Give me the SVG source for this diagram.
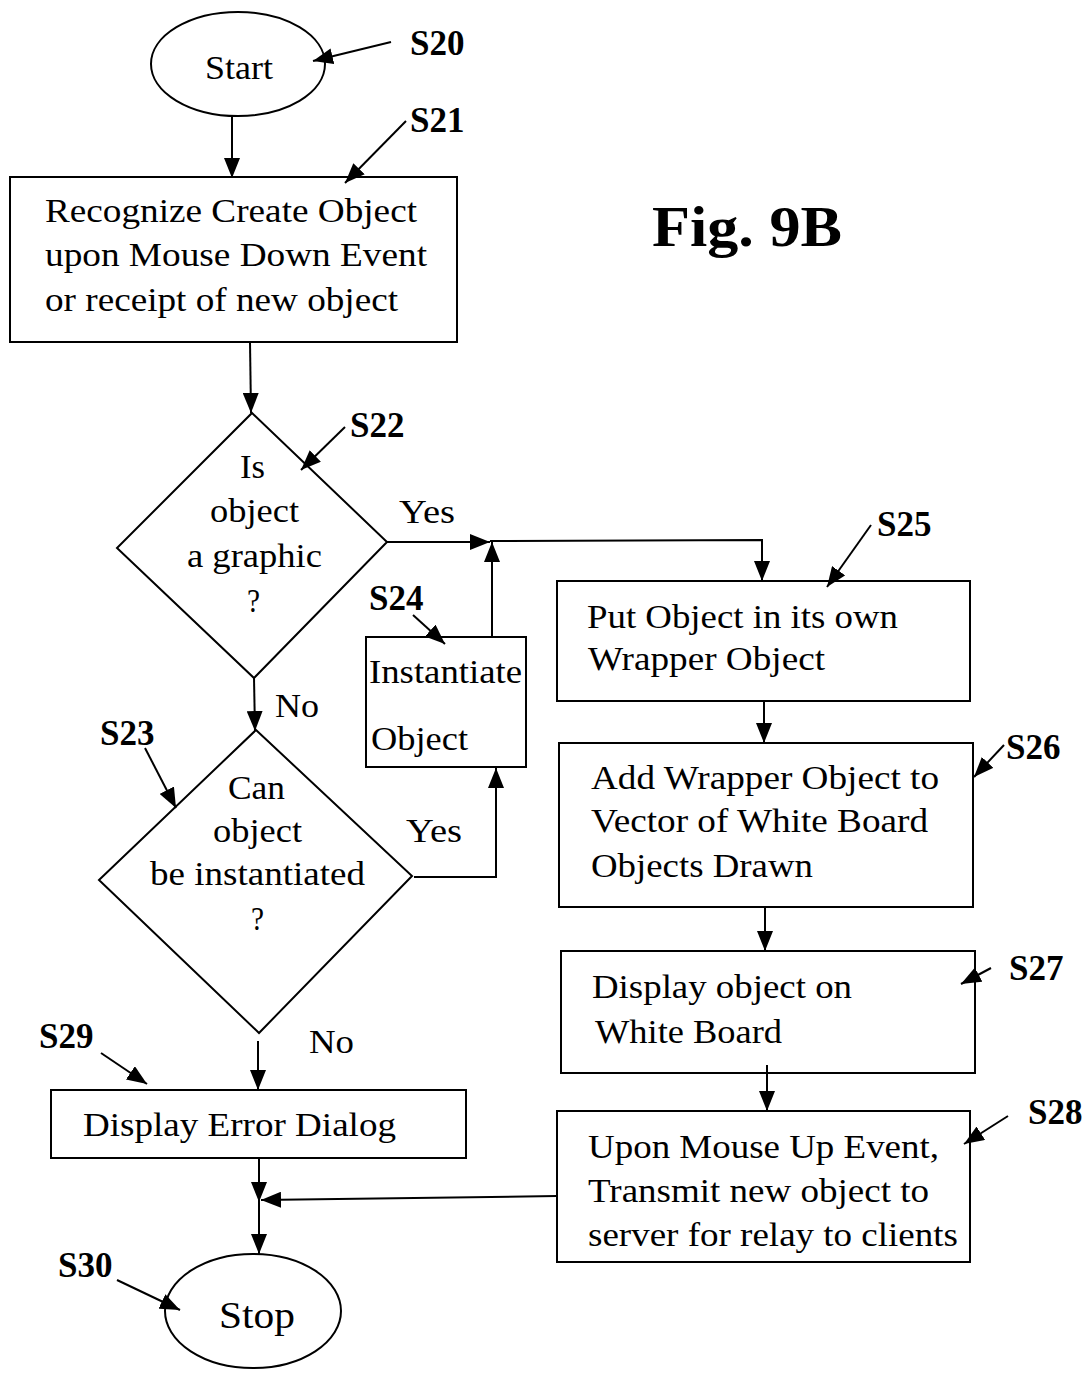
<svg xmlns="http://www.w3.org/2000/svg" width="1089" height="1373" viewBox="0 0 1089 1373">
<style>
.s{fill:none;stroke:#000;stroke-width:2}
.t{font-family:"Liberation Serif","Times New Roman",serif;font-size:33px;fill:#000}
.d{font-family:"Liberation Serif","Times New Roman",serif;font-size:34px;fill:#000}
.l{font-family:"Liberation Serif","Times New Roman",serif;font-size:35px;font-weight:bold;fill:#000}
.c{fill:none;stroke:#000;stroke-width:2}
</style>
<defs>
<marker id="ah" viewBox="0 0 20 16" refX="20" refY="8" markerWidth="20" markerHeight="16" markerUnits="userSpaceOnUse" orient="auto">
<path d="M0,0 L20,8 L0,16 z" fill="#000"/>
</marker>
</defs>
<rect width="1089" height="1373" fill="#fff"/>

<text class="l" x="652" y="246" style="font-size:56px" textLength="190" lengthAdjust="spacingAndGlyphs">Fig. 9B</text>

<g id="S20">
<ellipse class="s" cx="238" cy="64" rx="87" ry="52"/>
<text class="t" x="205" y="79" style="font-size:34px" textLength="68" lengthAdjust="spacingAndGlyphs">Start</text>
</g>
<g id="S21">
<rect class="s" x="10" y="177" width="447" height="165"/>
<text class="t" x="45" y="222" textLength="372" lengthAdjust="spacingAndGlyphs">Recognize Create Object</text>
<text class="t" x="45" y="266" textLength="382" lengthAdjust="spacingAndGlyphs">upon Mouse Down Event</text>
<text class="t" x="45" y="311" textLength="353" lengthAdjust="spacingAndGlyphs">or receipt of new object</text>
</g>
<g id="S22">
<polygon class="s" points="252,413 387,542 254,678 117,548"/>
<text class="d" x="240" y="478" textLength="25" lengthAdjust="spacingAndGlyphs">Is</text>
<text class="d" x="210" y="522" textLength="89" lengthAdjust="spacingAndGlyphs">object</text>
<text class="d" x="187" y="567" textLength="135" lengthAdjust="spacingAndGlyphs">a graphic</text>
<text class="d" x="247" y="612" textLength="13" lengthAdjust="spacingAndGlyphs">?</text>
</g>
<g id="S23">
<polygon class="s" points="256,730 412,876 259,1033 99,880"/>
<text class="d" x="228" y="799" textLength="57" lengthAdjust="spacingAndGlyphs">Can</text>
<text class="d" x="213" y="842" textLength="89" lengthAdjust="spacingAndGlyphs">object</text>
<text class="d" x="150" y="885" textLength="215" lengthAdjust="spacingAndGlyphs">be instantiated</text>
<text class="d" x="251" y="930" textLength="13" lengthAdjust="spacingAndGlyphs">?</text>
</g>
<g id="S24">
<rect class="s" x="366" y="637" width="160" height="130"/>
<text class="t" x="369" y="683" textLength="153" lengthAdjust="spacingAndGlyphs">Instantiate</text>
<text class="t" x="371" y="750" textLength="97" lengthAdjust="spacingAndGlyphs">Object</text>
</g>
<g id="S25">
<rect class="s" x="557" y="581" width="413" height="120"/>
<text class="t" x="587" y="628" textLength="311" lengthAdjust="spacingAndGlyphs">Put Object in its own</text>
<text class="t" x="588" y="670" textLength="237" lengthAdjust="spacingAndGlyphs">Wrapper Object</text>
</g>
<g id="S26">
<rect class="s" x="559" y="743" width="414" height="164"/>
<text class="t" x="591" y="789" textLength="348" lengthAdjust="spacingAndGlyphs">Add Wrapper Object to</text>
<text class="t" x="591" y="832" textLength="337" lengthAdjust="spacingAndGlyphs">Vector of White Board</text>
<text class="t" x="591" y="877" textLength="222" lengthAdjust="spacingAndGlyphs">Objects Drawn</text>
</g>
<g id="S27">
<rect class="s" x="561" y="951" width="414" height="122"/>
<text class="t" x="592" y="998" textLength="260" lengthAdjust="spacingAndGlyphs">Display object on</text>
<text class="t" x="595" y="1043" textLength="187" lengthAdjust="spacingAndGlyphs">White Board</text>
</g>
<g id="S28">
<rect class="s" x="557" y="1111" width="413" height="151"/>
<text class="t" x="588" y="1158" textLength="351" lengthAdjust="spacingAndGlyphs">Upon Mouse Up Event,</text>
<text class="t" x="588" y="1202" textLength="341" lengthAdjust="spacingAndGlyphs">Transmit new object to</text>
<text class="t" x="588" y="1246" textLength="370" lengthAdjust="spacingAndGlyphs">server for relay to clients</text>
</g>
<g id="S29">
<rect class="s" x="51" y="1090" width="415" height="68"/>
<text class="t" x="83" y="1136" textLength="313" lengthAdjust="spacingAndGlyphs">Display Error Dialog</text>
</g>
<g id="S30">
<ellipse class="s" cx="253" cy="1311" rx="88" ry="57"/>
<text class="t" x="219" y="1328" style="font-size:38px" textLength="76" lengthAdjust="spacingAndGlyphs">Stop</text>
</g>

<g id="labels">
<text class="l" x="410" y="55">S20</text>
<text class="l" x="410" y="132">S21</text>
<text class="l" x="350" y="437">S22</text>
<text class="l" x="100" y="745">S23</text>
<text class="l" x="369" y="610">S24</text>
<text class="l" x="877" y="536">S25</text>
<text class="l" x="1006" y="759">S26</text>
<text class="l" x="1009" y="980">S27</text>
<text class="l" x="1028" y="1124">S28</text>
<text class="l" x="39" y="1048">S29</text>
<text class="l" x="58" y="1277">S30</text>
<text class="t" x="399" y="523" textLength="56" lengthAdjust="spacingAndGlyphs">Yes</text>
<text class="t" x="275" y="717" textLength="44" lengthAdjust="spacingAndGlyphs">No</text>
<text class="t" x="406" y="842" textLength="56" lengthAdjust="spacingAndGlyphs">Yes</text>
<text class="t" x="309" y="1053" textLength="45" lengthAdjust="spacingAndGlyphs">No</text>
</g>

<g id="connectors">
<line class="c" x1="232" y1="116" x2="232" y2="178" marker-end="url(#ah)"/>
<line class="c" x1="250" y1="342" x2="251" y2="413" marker-end="url(#ah)"/>
<line class="c" x1="387" y1="542" x2="490" y2="542" marker-end="url(#ah)"/>
<line class="c" x1="492" y1="637" x2="492" y2="542" marker-end="url(#ah)"/>
<polyline class="c" points="490,541 762,540 762,581" marker-end="url(#ah)"/>
<line class="c" x1="254" y1="678" x2="255" y2="731" marker-end="url(#ah)"/>
<polyline class="c" points="414,877 496,877 496,768" marker-end="url(#ah)"/>
<line class="c" x1="258" y1="1041" x2="258" y2="1090" marker-end="url(#ah)"/>
<line class="c" x1="259" y1="1158" x2="259" y2="1202" marker-end="url(#ah)"/>
<line class="c" x1="259" y1="1200" x2="259" y2="1254" marker-end="url(#ah)"/>
<line class="c" x1="557" y1="1196" x2="261" y2="1200" marker-end="url(#ah)"/>
<line class="c" x1="764" y1="701" x2="764" y2="743" marker-end="url(#ah)"/>
<line class="c" x1="765" y1="907" x2="765" y2="951" marker-end="url(#ah)"/>
<line class="c" x1="767" y1="1065" x2="767" y2="1111" marker-end="url(#ah)"/>
<line class="c" x1="391" y1="42" x2="313" y2="61" marker-end="url(#ah)"/>
<line class="c" x1="406" y1="121" x2="345" y2="183" marker-end="url(#ah)"/>
<line class="c" x1="345" y1="427" x2="301" y2="470" marker-end="url(#ah)"/>
<line class="c" x1="145" y1="748" x2="176" y2="808" marker-end="url(#ah)"/>
<line class="c" x1="413" y1="615" x2="445" y2="644" marker-end="url(#ah)"/>
<line class="c" x1="871" y1="525" x2="827" y2="587" marker-end="url(#ah)"/>
<line class="c" x1="1004" y1="745" x2="974" y2="777" marker-end="url(#ah)"/>
<line class="c" x1="991" y1="968" x2="961" y2="984" marker-end="url(#ah)"/>
<line class="c" x1="1008" y1="1116" x2="964" y2="1144" marker-end="url(#ah)"/>
<line class="c" x1="101" y1="1053" x2="147" y2="1084" marker-end="url(#ah)"/>
<line class="c" x1="117" y1="1280" x2="180" y2="1310" marker-end="url(#ah)"/>
</g>
</svg>
